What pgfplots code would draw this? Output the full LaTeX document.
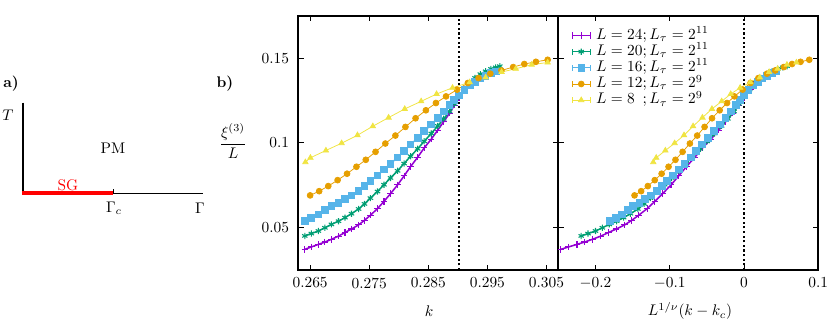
\documentclass[border=0pt]{standalone}
\usepackage{pgfplots}
\usepackage{pgfplotstable}
\pgfplotsset{compat=1.18}
\definecolor{c24}{HTML}{9400D3}
\definecolor{c20}{HTML}{009E73}
\definecolor{c16}{HTML}{56B4E9}
\definecolor{c12}{HTML}{E69F00}
\definecolor{c8}{HTML}{F0E442}

\pgfplotstableread{
k X y
0.2641 -0.2466 0.0372
0.2652 -0.2363 0.0386
0.2664 -0.2249 0.0401
0.2675 -0.2145 0.0415
0.2686 -0.2041 0.0431
0.2698 -0.1928 0.0450
0.2709 -0.1824 0.0471
0.2720 -0.1720 0.0492
0.2732 -0.1607 0.0516
0.2742 -0.1512 0.0543
0.2752 -0.1418 0.0573
0.2764 -0.1304 0.0612
0.2775 -0.1200 0.0655
0.2786 -0.1096 0.0700
0.2798 -0.0983 0.0752
0.2809 -0.0879 0.0805
0.2820 -0.0775 0.0860
0.2832 -0.0662 0.0915
0.2843 -0.0558 0.0970
0.2855 -0.0444 0.1022
0.2866 -0.0340 0.1075
0.2876 -0.0246 0.1125
0.2886 -0.0151 0.1175
0.2894 -0.0076 0.1222
0.2902 0.0000 0.1265
0.2911 0.0085 0.1315
0.2920 0.0170 0.1360
}\tP

\pgfplotstableread{
k X y
0.2641 -0.2192 0.0451
0.2652 -0.2100 0.0465
0.2664 -0.1999 0.0480
0.2675 -0.1907 0.0499
0.2686 -0.1814 0.0519
0.2698 -0.1714 0.0538
0.2709 -0.1621 0.0559
0.2720 -0.1529 0.0582
0.2732 -0.1428 0.0610
0.2742 -0.1344 0.0640
0.2752 -0.1260 0.0674
0.2764 -0.1159 0.0713
0.2775 -0.1067 0.0753
0.2786 -0.0974 0.0793
0.2798 -0.0874 0.0835
0.2809 -0.0781 0.0878
0.2820 -0.0689 0.0921
0.2832 -0.0588 0.0965
0.2843 -0.0496 0.1009
0.2855 -0.0395 0.1055
0.2866 -0.0302 0.1100
0.2876 -0.0218 0.1142
0.2886 -0.0134 0.1185
0.2894 -0.0067 0.1230
0.2902 0.0000 0.1272
0.2911 0.0076 0.1315
0.2920 0.0151 0.1352
0.2929 0.0227 0.1383
0.2938 0.0302 0.1405
0.2947 0.0378 0.1422
0.2956 0.0454 0.1436
0.2964 0.0521 0.1445
0.2971 0.0580 0.1452
}\tG

\pgfplotstableread{
k X y
0.2641 -0.1801 0.0539
0.2652 -0.1725 0.0557
0.2664 -0.1642 0.0578
0.2675 -0.1566 0.0602
0.2686 -0.1490 0.0627
0.2698 -0.1408 0.0646
0.2709 -0.1332 0.0668
0.2720 -0.1256 0.0690
0.2732 -0.1173 0.0717
0.2742 -0.1104 0.0745
0.2752 -0.1035 0.0776
0.2764 -0.0952 0.0808
0.2775 -0.0876 0.0843
0.2786 -0.0800 0.0877
0.2798 -0.0718 0.0914
0.2809 -0.0642 0.0952
0.2820 -0.0566 0.0990
0.2832 -0.0483 0.1029
0.2843 -0.0407 0.1068
0.2855 -0.0324 0.1108
0.2866 -0.0248 0.1147
0.2876 -0.0179 0.1185
0.2886 -0.0110 0.1222
0.2894 -0.0055 0.1252
0.2902 0.0000 0.1280
0.2911 0.0062 0.1310
0.2920 0.0124 0.1338
0.2929 0.0186 0.1360
0.2938 0.0248 0.1380
0.2947 0.0311 0.1396
0.2956 0.0373 0.1410
0.2965 0.0435 0.1421
}\tB

\pgfplotstableread{
k X y
0.26500 -0.1474 0.0690
0.26653 -0.1385 0.0715
0.26807 -0.1295 0.0745
0.26965 -0.1202 0.0780
0.27125 -0.1109 0.0818
0.27284 -0.1016 0.0859
0.27442 -0.0923 0.0900
0.27607 -0.0827 0.0947
0.27773 -0.0729 0.0996
0.27943 -0.0630 0.1043
0.28113 -0.0531 0.1094
0.28284 -0.0431 0.1145
0.28459 -0.0328 0.1192
0.28629 -0.0229 0.1235
0.28800 -0.0129 0.1274
0.28987 -0.0019 0.1314
0.29169 0.0087 0.1353
0.29350 0.0193 0.1382
0.29549 0.0309 0.1408
0.29737 0.0419 0.1427
0.29936 0.0536 0.1447
0.30124 0.0646 0.1465
0.30321 0.0761 0.1478
0.30520 0.0878 0.1490
}\tO

\pgfplotstableread{
k X y
0.26420 -0.1222 0.0886
0.26505 -0.1182 0.0912
0.26767 -0.1059 0.0955
0.27033 -0.0934 0.0998
0.27301 -0.0808 0.1045
0.27561 -0.0686 0.1098
0.27828 -0.0560 0.1149
0.28101 -0.0432 0.1200
0.28379 -0.0301 0.1245
0.28640 -0.0179 0.1288
0.28910 -0.0052 0.1325
0.29200 0.0085 0.1357
0.29470 0.0212 0.1386
0.29740 0.0338 0.1418
0.29980 0.0451 0.1437
0.30250 0.0578 0.1461
0.30520 0.0705 0.1474
}\tY

\pgfplotsset{
  panel/.style={
    anchor=south west, scale only axis,
    width=169pt, height=165.3pt,
    ymin=0.025, ymax=0.175,
    ytick={0.05,0.1,0.15},
    tick align=inside, major tick length=3.5pt,
    axis line style={line width=1.1pt},
    every tick/.style={black, line width=0.6pt},
    xticklabel style={yshift=-1.5pt},
    yticklabel style={xshift=-2.5pt},
  },
  s24/.style={c24, line width=1.0pt, mark=+, mark size=2.1pt, mark options={line width=0.7pt}},
  s20/.style={c20, line width=1.0pt, mark=asterisk, mark size=2.0pt, mark options={line width=0.7pt}},
  s16/.style={c16, line width=1.0pt, mark=square*, mark size=2.0pt},
  s12/.style={c12, line width=0.5pt, mark=*, mark size=1.9pt},
  s8/.style={c8, line width=0.5pt, mark=triangle*, mark size=2.0pt},
}

\begin{document}
\begin{tikzpicture}
% panel a) and labels, in pixel coordinates
\begin{axis}[at={(0pt,0pt)}, anchor=south west, scale only axis,
  width=540.15pt, height=209.95pt, xmin=0, xmax=831, ymin=0, ymax=323,
  hide axis, clip=false]
\addplot[black, line width=1.3pt] coordinates {(23,220.5) (23,130)};
\addplot[black, line width=0.65pt] coordinates {(113,130) (203,130)};
\addplot[black, line width=0.65pt] coordinates {(113,130) (113,134.5)};
\addplot[red, line width=2pt] coordinates {(22.4,130) (113,130)};
\node at (axis cs:11,239) {\textbf{a)}};
\node at (axis cs:8,208) {$T$};
\node at (axis cs:113,175) {PM};
\node[text=red] at (axis cs:68,137.5) {SG};
\node at (axis cs:114,114.5) {$\Gamma_c$};
\node at (axis cs:200,115) {$\Gamma$};
\node at (axis cs:225,239) {\textbf{b)}};
\node at (axis cs:233,182) {$\displaystyle\frac{\xi^{(3)}}{L}$};
\node at (axis cs:429,12) {$k$};
\node at (axis cs:690,12) {$L^{1/\nu}(k-k_c)$};
\end{axis}

% middle panel
\begin{axis}[panel, at={(193.9pt,34.45pt)},
  xmin=0.263, xmax=0.307,
  xtick={0.265,0.275,0.285,0.295,0.305},
  xticklabels={0.265,0.275,0.285,0.295,0.305},
  yticklabels={0.05,0.1,0.15}]
\addplot[s24] table[x=k,y=y] {\tP};
\addplot[s20] table[x=k,y=y] {\tG};
\addplot[s16] table[x=k,y=y] {\tB};
\addplot[s12] table[x=k,y=y] {\tO};
\addplot[s8] table[x=k,y=y] {\tY};
\addplot[black, line width=0.7pt, dash pattern=on 1.4pt off 1.6pt] coordinates {(0.2902,0.025) (0.2902,0.175)};
\end{axis}

% right panel
\begin{axis}[panel, at={(362.9pt,34.45pt)},
  xmin=-0.25, xmax=0.1,
  xtick={-0.2,-0.1,0,0.1},
  xticklabels={$-0.2$,$-0.1$,$0$,$0.1$},
  yticklabels={},
  legend cell align=left,
  legend style={at={(0.05,0.955)}, anchor=north west, draw=none, fill=none,
    inner sep=0pt, row sep=0pt, column sep=2.5pt,
    nodes={inner sep=1pt, text height=6.6pt, text depth=1.9pt}},
  legend image code/.code={
    \draw[mark repeat=2, mark phase=2, #1, line width=0.5pt] plot coordinates {(0pt,0pt) (6pt,0pt) (12pt,0pt)};
    \draw[#1, mark=none, line width=0.5pt] (0pt,-2pt) -- (0pt,2pt) (12pt,-2pt) -- (12pt,2pt);
  }]
\addplot[s24] table[x=X,y=y] {\tP};
\addlegendentry{$L=24; L_\tau=2^{11}$}
\addplot[s20] table[x=X,y=y] {\tG};
\addlegendentry{$L=20; L_\tau=2^{11}$}
\addplot[s16] table[x=X,y=y] {\tB};
\addlegendentry{$L=16; L_\tau=2^{11}$}
\addplot[s12] table[x=X,y=y] {\tO};
\addlegendentry{$L=12; L_\tau=2^{9}$}
\addplot[s8] table[x=X,y=y] {\tY};
\addlegendentry{$L=8\phantom{0}; L_\tau=2^{9}$}
\addplot[black, line width=0.7pt, dash pattern=on 1.4pt off 1.6pt, forget plot] coordinates {(0,0.025) (0,0.175)};
\end{axis}
\pgfresetboundingbox
\useasboundingbox (0pt,0pt) rectangle (540.15pt,209.95pt);
\end{tikzpicture}
\end{document}
